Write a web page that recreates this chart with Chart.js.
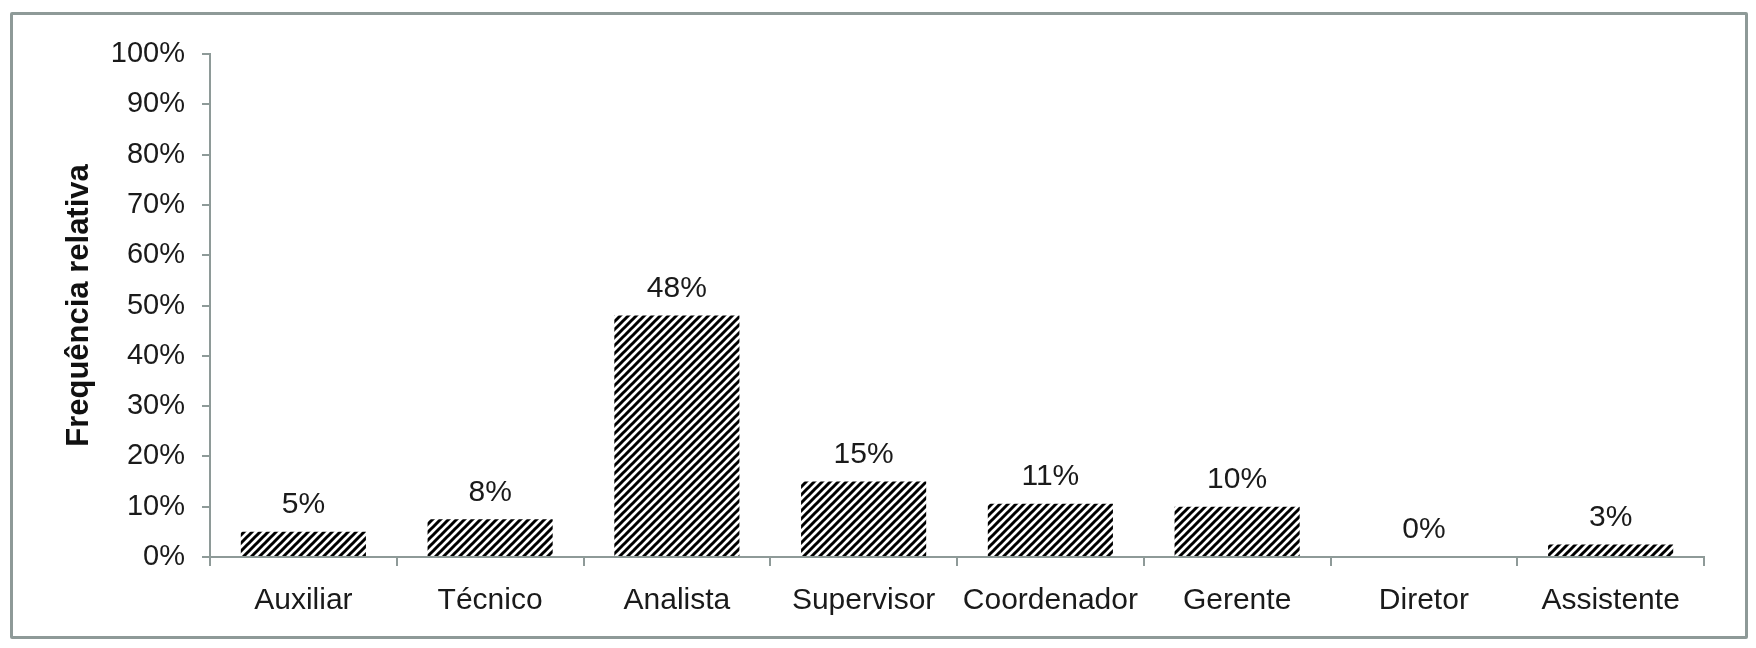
<!DOCTYPE html>
<html>
<head>
<meta charset="utf-8">
<script src="https://cdn.jsdelivr.net/npm/chart.js@4"></script>
<style>
  html, body { margin: 0; padding: 0; background: #fff; }
  #wrap { position: relative; width: 1756px; height: 648px; }
  #frame { position: absolute; left: 10px; top: 12px; width: 1732px; height: 621px; border: 3px solid #8e9a98; border-radius: 2px; }
  canvas { position: absolute; left: 0; top: 0; }
</style>
</head>
<body>
<div id="wrap">
  <div id="frame"></div>
  <canvas id="chart" width="1756" height="648"></canvas>
</div>
<script>
// cargos e frequência relativa (%)
const cargos = ["Auxiliar", "Técnico", "Analista", "Supervisor", "Coordenador", "Gerente", "Diretor", "Assistente"];
const frequencias = [5, 7.5, 48, 15, 10.6, 10, 0, 2.5];
const yTicks = [0, 10, 20, 30, 40, 50, 60, 70, 80, 90, 100];

const axisGray = "#8e9a98";
const textColor = "#1a1a1a";
const fontFamily = '"Liberation Sans", Arial, sans-serif';

function makeHatch() {
    const c = document.createElement("canvas");
    c.width = 8;
    c.height = 8;
    const g = c.getContext("2d");
    g.strokeStyle = "#000";
    g.lineWidth = 3;
    g.beginPath();
    g.moveTo(0, 8); g.lineTo(8, 0);
    g.moveTo(-4, 4); g.lineTo(4, -4);
    g.moveTo(4, 12); g.lineTo(12, 4);
    g.stroke();
    return g.createPattern(c, "repeat");
}

// rótulos de valor acima das barras
const valueLabels = {
    id: "valueLabels",
    afterDatasetsDraw(chart) {
        const ctx = chart.ctx;
        const meta = chart.getDatasetMeta(0);
        ctx.save();
        ctx.font = "30px " + fontFamily;
        ctx.fillStyle = textColor;
        ctx.textAlign = "center";
        ctx.textBaseline = "middle";
        meta.data.forEach((bar, i) => {
            ctx.fillText(Math.round(frequencias[i]) + "%", bar.x, bar.y - 27);
        });
        ctx.restore();
    }
};

const ctx = document.getElementById("chart").getContext("2d");
new Chart(ctx, {
    type: "bar",
    data: {
        labels: cargos,
        datasets: [{
            data: frequencias,
            backgroundColor: makeHatch(),
            borderWidth: 0,
            barPercentage: 0.67,
            categoryPercentage: 1
        }]
    },
    options: {
        responsive: false,
        animation: false,
        layout: { padding: { left: 0, right: 52, top: 54, bottom: 0 } },
        plugins: {
            legend: { display: false },
            tooltip: { enabled: false }
        },
        scales: {
            x: {
                grid: { drawOnChartArea: false, drawTicks: true, tickLength: 9, color: axisGray, lineWidth: 2, offset: true },
                border: { display: true, color: axisGray, width: 2 },
                ticks: { color: textColor, padding: 17, font: { size: 30, family: fontFamily }, maxRotation: 0 },
                afterFit(scale) { scale.height = 91; }
            },
            y: {
                min: 0,
                max: 100,
                afterBuildTicks(scale) { scale.ticks = yTicks.map(v => ({ value: v })); },
                grid: { drawOnChartArea: false, drawTicks: true, tickLength: 8, color: axisGray, lineWidth: 2 },
                border: { display: true, color: axisGray, width: 2 },
                ticks: { color: textColor, padding: 17, font: { size: 29, family: fontFamily }, callback: v => v + "%" },
                title: {
                    display: true,
                    text: "Frequência relativa",
                    color: "#111",
                    font: { size: 31, weight: "bold", family: fontFamily },
                    padding: { top: 61, bottom: 0 }
                },
                afterFit(scale) { scale.width = 210; }
            }
        }
    },
    plugins: [valueLabels]
});
</script>
</body>
</html>
